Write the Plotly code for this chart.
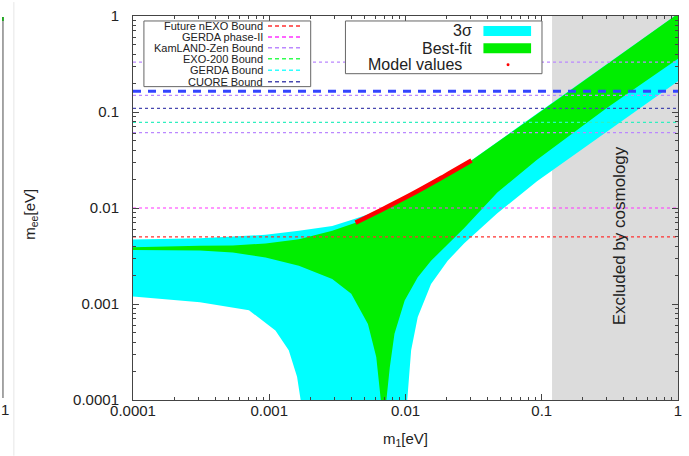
import plotly.graph_objects as go

# ---------------- data ----------------
# 3-sigma region (cyan)
cyan_upper_x = [5e-5, 1e-4, 3.1e-4, 9.4e-4, 1.65e-3, 2.9e-3, 4.0e-3, 6.3e-3, 1.1e-2, 1.93e-2, 3.05e-2, 0.1, 0.3, 1.0, 1.2]
cyan_upper_y = [0.0047, 0.0047, 0.00485, 0.00525, 0.00578, 0.0065, 0.0075, 0.0093, 0.0139, 0.0216, 0.0314, 0.104, 0.312, 1.06, 1.27]
cyan_lowL_x = [5e-5, 1e-4, 3.1e-4, 7.1e-4, 1.11e-3, 1.39e-3, 1.6e-3, 1.7e-3, 1.75e-3]
cyan_lowL_y = [0.0012, 0.0012, 0.00104, 0.00086, 0.00053, 0.00033, 0.000175, 0.0001, 0.00001]
cyan_lowR_x = [1.0e-2, 1.03e-2, 1.1e-2, 1.23e-2, 1.54e-2, 2.04e-2, 2.7e-2, 4.72e-2, 9.23e-2, 0.3, 1.0, 1.2]
cyan_lowR_y = [0.00001, 0.0001, 0.00033, 0.00073, 0.00162, 0.00282, 0.0043, 0.0088, 0.019, 0.063, 0.21, 0.252]

# best-fit region (green)
green_upper_x = [5e-5, 1e-4, 3.1e-4, 5.4e-4, 9.4e-4, 1.65e-3, 2.9e-3, 4.3e-3, 6.3e-3, 1.1e-2, 1.93e-2, 3.05e-2, 0.1, 0.3, 1.0, 1.2]
green_upper_y = [0.0039, 0.0039, 0.00404, 0.00408, 0.00427, 0.00473, 0.00578, 0.00704, 0.0091, 0.0137, 0.0214, 0.0312, 0.103, 0.31, 1.06, 1.27]
green_lowL_x = [5e-5, 1e-4, 3.1e-4, 5.4e-4, 9.4e-4, 1.65e-3, 2.9e-3, 4.0e-3, 5.3e-3, 6.1e-3, 6.59e-3, 6.75e-3]
green_lowL_y = [0.00367, 0.00367, 0.0036, 0.00344, 0.00305, 0.0025, 0.00182, 0.00128, 0.00062, 0.00028, 0.0001, 0.00001]
green_lowR_x = [7.0e-3, 7.24e-3, 7.67e-3, 8.3e-3, 9.86e-3, 1.23e-2, 1.54e-2, 2.7e-2, 4.72e-2, 9.23e-2, 0.3, 1.0, 1.2]
green_lowR_y = [0.00001, 0.0001, 0.00022, 0.00049, 0.00109, 0.0019, 0.00282, 0.0062, 0.0145, 0.0319, 0.11, 0.36, 0.43]

# model values (red)
model_x = [0.0043, 0.0063, 0.011, 0.0193, 0.0305]
model_y = [0.00704, 0.0092, 0.0138, 0.0215, 0.0312]

# experimental bounds (horizontal lines)
bound_values = [0.005, 0.01, 0.061, 0.078, 0.109, 0.149, 0.164, 0.331]
bound_kinds = ["nEXO", "GERDA2", "KamLAND", "GERDA", "CUORE", "KamLAND", "blue", "KamLAND"]

# cosmology excluded region
cosmo_min = 0.119

legend1_labels = ["Future nEXO Bound", "GERDA phase-II", "KamLAND-Zen Bound",
                  "EXO-200 Bound", "GERDA Bound", "CUORE Bound"]
legend2_labels = ["3σ", "Best-fit", "Model values"]

x_tickvals = [1e-4, 1e-3, 1e-2, 1e-1, 1]
x_ticktext = ["0.0001", "0.001", "0.01", "0.1", "1"]

# ---------------- styling ----------------
FONT = "Liberation Sans, Arial, sans-serif"
CYAN = "#00ffff"
GREEN = "#00ee00"
kind_style = {
    "nEXO": dict(color="#ff3030", width=1.2, dash="3px,3px"),
    "GERDA2": dict(color="#ff30ff", width=1.2, dash="3px,3px"),
    "KamLAND": dict(color="#bb88ff", width=1.2, dash="3px,3px"),
    "GERDA": dict(color="#30f0c0", width=1.2, dash="3px,3px"),
    "CUORE": dict(color="#4848b0", width=1.2, dash="3px,3px"),
    "blue": dict(color="#3344ff", width=3, dash="8px,7px"),
}
legend1_colors = ["#ff3030", "#ff30ff", "#bb88ff", "#30ff50", "#30ffff", "#4848b0"]

L, R, T, B = 133, 682, 14, 400
W, H = 689, 456


def px(x):
    return (x - L) / (R - L)


def py(y):
    return (B - y) / (B - T)


def note(x, y, text, size, angle=0, xanchor="center"):
    return dict(xref="paper", yref="paper", x=px(x), y=py(y), text=text,
                showarrow=False, textangle=angle, xanchor=xanchor, yanchor="middle",
                font=dict(family=FONT, size=size, color="#222"))


fig = go.Figure()

# cosmology excluded (gray)
fig.add_trace(go.Scatter(x=[cosmo_min, 2, 2, cosmo_min], y=[1e-6, 1e-6, 10, 10],
                         fill="toself", fillcolor="#dcdcdc", line=dict(width=0),
                         mode="lines", hoverinfo="skip", showlegend=False))

# cyan polygon
cx = cyan_upper_x + cyan_lowR_x[::-1] + cyan_lowL_x[::-1]
cy = cyan_upper_y + cyan_lowR_y[::-1] + cyan_lowL_y[::-1]
fig.add_trace(go.Scatter(x=cx, y=cy, fill="toself", fillcolor=CYAN,
                         line=dict(width=0, color=CYAN), mode="lines",
                         hoverinfo="skip", showlegend=False))
# green polygon
gx = green_upper_x + green_lowR_x[::-1] + green_lowL_x[::-1]
gy = green_upper_y + green_lowR_y[::-1] + green_lowL_y[::-1]
fig.add_trace(go.Scatter(x=gx, y=gy, fill="toself", fillcolor=GREEN,
                         line=dict(width=0, color=GREEN), mode="lines",
                         hoverinfo="skip", showlegend=False))

# bound lines
for v, k in zip(bound_values, bound_kinds):
    fig.add_trace(go.Scatter(x=[1e-4, 1], y=[v, v], mode="lines",
                             line=kind_style[k], hoverinfo="skip", showlegend=False))

# model values
fig.add_trace(go.Scatter(x=model_x, y=model_y, mode="lines", line_shape="spline",
                         line=dict(color="#ff0000", width=4.5), showlegend=False))

shapes = []
annotations = []

# legend 1
shapes.append(dict(type="rect", xref="paper", yref="paper", x0=px(144), x1=px(312),
                   y0=py(85), y1=py(19), fillcolor="white",
                   line=dict(color="#666", width=1), layer="above"))
rows1 = [24, 35, 46, 57, 68.5, 80]
for lab, col, ry in zip(legend1_labels, legend1_colors, rows1):
    annotations.append(note(266, ry, lab, 11, xanchor="right"))
    shapes.append(dict(type="line", xref="paper", yref="paper", x0=px(269), x1=px(303),
                       y0=py(ry), y1=py(ry), line=dict(color=col, width=1.5, dash="4px,3px"),
                       layer="above"))

# legend 2
shapes.append(dict(type="rect", xref="paper", yref="paper", x0=px(347), x1=px(545),
                   y0=py(72), y1=py(19), fillcolor="white",
                   line=dict(color="#666", width=1), layer="above"))
rows2 = [29, 46.5, 63]
xr2 = [476, 476, 466]
for lab, ry, xr in zip(legend2_labels, rows2, xr2):
    annotations.append(note(xr, ry, lab, 16, xanchor="right"))
shapes.append(dict(type="rect", xref="paper", yref="paper", x0=px(486), x1=px(534),
                   y0=py(34), y1=py(24), fillcolor=CYAN, line=dict(width=0), layer="above"))
shapes.append(dict(type="rect", xref="paper", yref="paper", x0=px(486), x1=px(534),
                   y0=py(51.5), y1=py(41.5), fillcolor=GREEN, line=dict(width=0), layer="above"))
shapes.append(dict(type="circle", xref="paper", yref="paper", x0=px(509.3), x1=px(512.3),
                   y0=py(64.5), y1=py(61.5), fillcolor="#ff0000", line=dict(width=0),
                   layer="above"))

# excluded text
annotations.append(note(623, 235, "Excluded by cosmology", 17, angle=-90))

# axis titles
annotations.append(note(407, 440, "m<sub>1</sub>[eV]", 15))
annotations.append(note(30, 213, "m<sub>ee</sub>[eV]", 15, angle=-90))

# neighbouring panel fragment on the left edge
shapes.append(dict(type="line", xref="paper", yref="paper", x0=px(13), x1=px(13),
                   y0=py(456), y1=py(0), line=dict(color="#e6e6e6", width=1), layer="above"))
shapes.append(dict(type="line", xref="paper", yref="paper", x0=px(2), x1=px(2),
                   y0=py(398), y1=py(15), line=dict(color="#888", width=1.5), layer="above"))
shapes.append(dict(type="line", xref="paper", yref="paper", x0=px(2), x1=px(2),
                   y0=py(19), y1=py(15), line=dict(color="#00aa00", width=1.5), layer="above"))
annotations.append(note(4, 410, "1", 15))

minor_vals = [m * 10 ** e for e in range(-4, 0) for m in range(2, 10)]

axis_common = dict(type="log", range=[-4, 0], showgrid=False, zeroline=False,
                   showline=True, linecolor="#444", linewidth=1, mirror="allticks",
                   ticks="inside", ticklen=6, tickcolor="#444", tickwidth=1,
                   tickmode="array", tickvals=x_tickvals, ticktext=x_ticktext,
                   tickfont=dict(family=FONT, size=15, color="#222"),
                   minor=dict(tickmode="array", tickvals=minor_vals, ticks="inside",
                              ticklen=3, tickcolor="#444", showgrid=False))

fig.update_layout(
    width=W, height=H,
    margin=dict(l=L, r=W - R, t=T, b=H - B),
    paper_bgcolor="white", plot_bgcolor="white",
    showlegend=False,
    xaxis=dict(axis_common, ticklabelstandoff=-3),
    yaxis=dict(axis_common, ticklabelstandoff=10),
    shapes=shapes, annotations=annotations,
)

fig.write_html("out.html", config={"displayModeBar": False},
               post_script="document.body.style.margin='0';")
